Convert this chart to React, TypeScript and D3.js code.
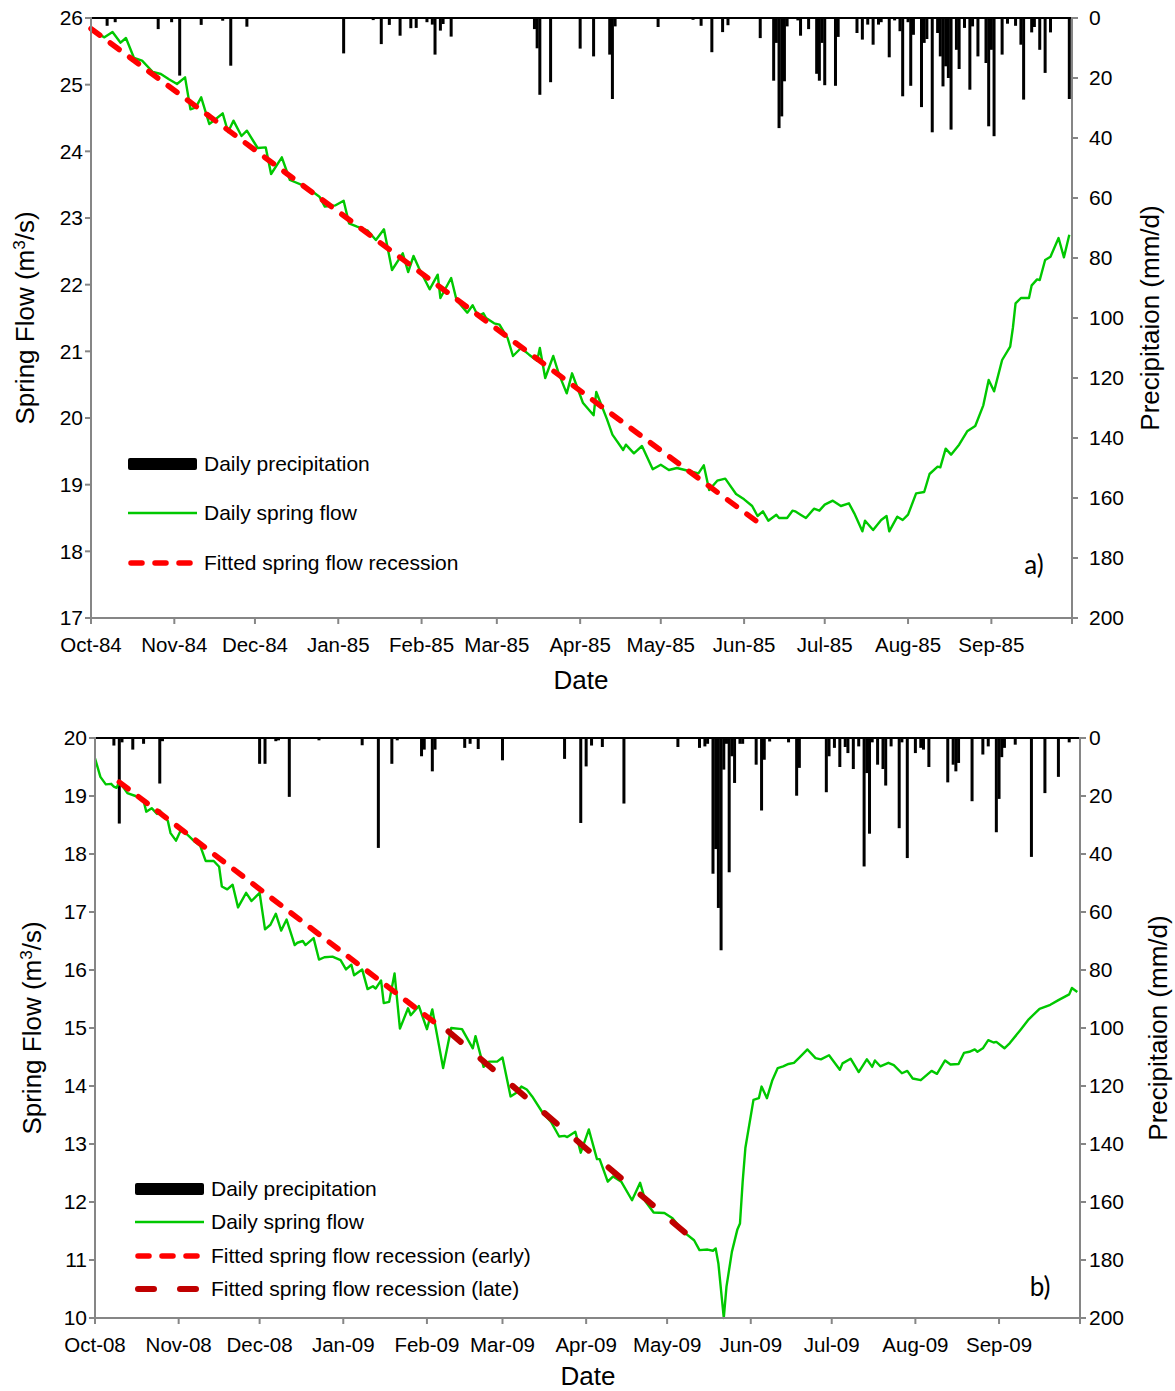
import React from 'react';
import * as d3 from 'd3';

// ---------- DATA ----------
const startA = '1984-10-01';
const startB = '2008-10-01';

const flowTicksA = [17, 18, 19, 20, 21, 22, 23, 24, 25, 26];
const flowTicksB = [10, 11, 12, 13, 14, 15, 16, 17, 18, 19, 20];
const precipTicks = [0, 20, 40, 60, 80, 100, 120, 140, 160, 180, 200];

// [day since start, mm/d]
const precipA: [number, number][] = [
  [6, 2.6], [9, 1.4], [25, 3.7], [30, 1.4], [33, 19.2], [41, 2.3], [49, 0.9], [52, 15.9], [58, 2.9],
  [94, 11.8], [105, 0.7], [108, 8.7], [111, 2.3], [115, 5.9], [119, 3.4], [121, 3.3], [125, 1.4],
  [127, 2.2], [128, 12.2], [130, 4.2], [131, 2.0], [134, 6.2], [165, 3.7], [166, 10.1], [167, 25.6],
  [171, 21.4], [182, 10.2], [187, 12.8], [193, 12.2], [194, 27], [195, 2.8], [211, 3], [224, 0.6],
  [227, 2.6], [231, 11.4], [235, 4.7], [237, 2.4], [249, 6.7], [254, 20.9], [255, 8.3], [256, 36.7],
  [257, 32.8], [258, 21.1], [259, 2.8], [263, 0.8], [264, 5.9], [267, 3.7], [270, 18.6], [271, 20.9],
  [272, 8.3], [273, 22.4], [277, 22.6], [278, 6.3], [285, 5], [287, 7.2], [289, 2.2], [291, 8.9],
  [293, 2.2], [294, 1.4], [297, 13.1], [299, 0.8], [301, 4.4], [302, 26.1], [304, 1.4], [305, 22.6],
  [306, 5.6], [309, 29.7], [310, 8.3], [311, 7], [313, 38.1], [315, 5], [316, 12.8], [317, 22.8],
  [318, 16.1], [319, 20], [320, 37.2], [322, 10.6], [323, 17], [325, 3.3], [327, 23.9], [328, 2.8],
  [330, 12.8], [333, 15], [334, 36.1], [335, 10.6], [336, 39.4], [339, 12.2], [341, 1.9], [344, 2.6],
  [346, 8.9], [347, 27.2], [350, 4.8], [351, 3], [353, 10.6], [355, 18.3], [357, 4.8], [364, 27],
];

// [day since start, m3/s]
const flowA: [number, number][] = [
  [0, 25.82], [5, 25.71], [8, 25.79], [11, 25.63], [13, 25.7], [16, 25.4], [19, 25.36], [23, 25.19],
  [26, 25.16], [29, 25.08], [32, 25.01], [35, 25.11], [37, 24.63], [39, 24.66], [41, 24.81], [44, 24.41],
  [46, 24.47], [49, 24.57], [51, 24.29], [53, 24.46], [56, 24.23], [58, 24.31], [62, 24.05], [65, 24.06],
  [67, 23.66], [71, 23.91], [74, 23.57], [80, 23.47], [85, 23.32], [87, 23.17], [91, 23.19], [94, 23.26],
  [96, 22.92], [99, 22.87], [103, 22.81], [106, 22.67], [109, 22.83], [112, 22.22], [116, 22.47],
  [118, 22.19], [120, 22.43], [122, 22.25], [126, 21.93], [129, 22.15], [130, 21.8], [134, 22.1],
  [136, 21.77], [140, 21.58], [142, 21.69], [144, 21.53], [146, 21.57], [147, 21.5], [150, 21.42],
  [152, 21.4], [155, 21.2], [157, 20.93], [160, 21.05], [163, 20.95], [166, 20.86], [167, 21.05],
  [169, 20.6], [172, 20.93], [174, 20.67], [177, 20.37], [179, 20.67], [181, 20.45], [183, 20.23],
  [187, 20.04], [188, 20.39], [192, 19.98], [194, 19.75], [198, 19.52], [199, 19.6], [202, 19.47],
  [205, 19.58], [209, 19.23], [212, 19.3], [215, 19.22], [218, 19.25], [221, 19.22], [226, 19.17],
  [228, 19.29], [230, 18.92], [233, 19.06], [236, 19.09], [240, 18.86], [243, 18.78], [246, 18.68],
  [248, 18.53], [250, 18.6], [252, 18.46], [255, 18.55], [256, 18.5], [259, 18.5], [261, 18.61],
  [262, 18.6], [264, 18.55], [266, 18.5], [269, 18.64], [271, 18.61], [273, 18.7], [276, 18.76],
  [279, 18.68], [282, 18.72], [284, 18.57], [285, 18.48], [287, 18.3], [288, 18.46], [291, 18.32],
  [294, 18.47], [296, 18.53], [297, 18.3], [300, 18.52], [302, 18.47], [304, 18.55], [307, 18.87],
  [310, 18.89], [312, 19.16], [315, 19.27], [316, 19.26], [318, 19.54], [320, 19.45], [323, 19.6],
  [326, 19.8], [329, 19.88], [332, 20.19], [334, 20.57], [336, 20.4], [339, 20.87], [342, 21.07],
  [343, 21.35], [344, 21.72], [346, 21.8], [349, 21.8], [350, 21.99], [352, 22.08], [353, 22.07],
  [355, 22.37], [357, 22.42], [360, 22.7], [362, 22.41], [364, 22.75],
];

const fitA: [number, number][] = [[0, 25.84], [248, 18.44]];

const precipB: [number, number][] = [
  [7, 2.6], [9, 29.5], [10, 1.5], [14, 4], [18, 2], [24, 15.7], [25, 1.1], [61, 8.9], [63, 8.9],
  [67, 1.1], [68, 0.8], [72, 20.3], [83, 0.8], [99, 2.5], [105, 37.9], [110, 8.9], [112, 0.8],
  [121, 6.3], [122, 4], [125, 11.5], [126, 4], [137, 3.4], [139, 2], [142, 3.8], [151, 7.7],
  [174, 7.2], [180, 29.3], [182, 9.8], [184, 2.6], [188, 3.1], [196, 22.6], [216, 3.1], [224, 3.4],
  [226, 2.9], [227, 2], [229, 46.8], [230, 38.3], [231, 58.6], [232, 73.2], [233, 10.9], [234, 2],
  [235, 46.3], [236, 6.3], [237, 15.5], [239, 2], [240, 2], [245, 9.2], [247, 25], [248, 7.5],
  [250, 1.2], [257, 1.5], [260, 19.9], [261, 10.3], [271, 18.7], [272, 6.3], [274, 3.4], [276, 10],
  [278, 3.1], [279, 5.2], [281, 10.7], [283, 2.9], [285, 44.3], [286, 12.1], [287, 33], [288, 1.5],
  [290, 9.2], [292, 10.7], [293, 16.4], [295, 2.9], [298, 31.1], [299, 1.5], [301, 41.4], [304, 5.2],
  [306, 3.4], [307, 4], [309, 10], [316, 15.3], [318, 9.2], [319, 11.5], [320, 8.6], [325, 21.8],
  [329, 5.7], [331, 2.9], [334, 32.5], [335, 21], [336, 6.6], [337, 3.4], [341, 2.3], [347, 41],
  [352, 19], [357, 13.4], [361, 1.5],
];

const flowB: [number, number][] = [
  [0, 19.65], [2, 19.33], [4, 19.2], [6, 19.21], [7, 19.16], [8, 19.14], [9, 19.25], [12, 19.05],
  [15, 19.0], [18, 18.92], [19, 18.73], [21, 18.79], [23, 18.69], [24, 18.75], [27, 18.57], [28, 18.36],
  [30, 18.23], [32, 18.43], [35, 18.3], [37, 18.21], [39, 18.14], [41, 17.88], [44, 17.88], [46, 17.78],
  [47, 17.44], [49, 17.39], [51, 17.47], [53, 17.08], [56, 17.33], [58, 17.19], [61, 17.33], [63, 16.7],
  [65, 16.78], [67, 16.97], [69, 16.68], [71, 16.87], [74, 16.43], [75, 16.47], [77, 16.5], [78, 16.43],
  [81, 16.55], [83, 16.18], [85, 16.22], [88, 16.23], [91, 16.17], [93, 16.01], [95, 16.09], [96, 15.91],
  [99, 16.01], [101, 15.67], [103, 15.72], [104, 15.68], [106, 15.82], [107, 15.43], [109, 15.45],
  [111, 15.94], [113, 14.99], [116, 15.34], [117, 15.22], [120, 15.38], [123, 14.98], [125, 15.32],
  [129, 14.31], [132, 15.0], [136, 14.98], [140, 14.65], [141, 14.86], [144, 14.33], [146, 14.42],
  [149, 14.42], [151, 14.49], [154, 13.82], [156, 13.88], [158, 13.99], [160, 13.94], [162, 13.82],
  [166, 13.53], [169, 13.38], [172, 13.13], [174, 13.14], [175, 13.12], [178, 13.21], [180, 12.85],
  [182, 13.12], [183, 13.25], [186, 12.74], [187, 12.74], [190, 12.35], [192, 12.44], [195, 12.35],
  [199, 12.03], [202, 12.33], [204, 12.01], [207, 11.82], [211, 11.81], [214, 11.72], [218, 11.49],
  [222, 11.34], [224, 11.17], [227, 11.18], [229, 11.16], [230, 11.2], [231, 10.94], [233, 10.0],
  [234, 10.54], [236, 11.14], [238, 11.52], [239, 11.63], [240, 12.35], [241, 12.93], [244, 13.76],
  [246, 13.79], [247, 13.99], [249, 13.79], [251, 14.1], [253, 14.31], [255, 14.34], [257, 14.38],
  [259, 14.4], [261, 14.49], [264, 14.63], [267, 14.48], [269, 14.46], [272, 14.53], [276, 14.28],
  [277, 14.39], [280, 14.47], [283, 14.24], [286, 14.46], [288, 14.33], [289, 14.44], [291, 14.34],
  [294, 14.4], [296, 14.36], [299, 14.22], [301, 14.26], [303, 14.13], [306, 14.1], [310, 14.26],
  [312, 14.21], [315, 14.44], [317, 14.37], [320, 14.38], [322, 14.57], [324, 14.59], [326, 14.63],
  [327, 14.59], [329, 14.65], [331, 14.79], [333, 14.75], [334, 14.76], [337, 14.65], [339, 14.74],
  [343, 14.97], [346, 15.15], [350, 15.33], [354, 15.4], [357, 15.48], [361, 15.58], [362, 15.69],
  [364, 15.62],
];

const fitEarlyB: [number, number][] = [[9, 19.24], [128, 15.02]];
const fitLateB: [number, number][] = [[131, 14.94], [222, 11.34]];

const legendA = ['Daily precipitation', 'Daily spring flow', 'Fitted spring flow recession'];
const legendB = [
  'Daily precipitation',
  'Daily spring flow',
  'Fitted spring flow recession (early)',
  'Fitted spring flow recession (late)',
];

// ---------- STYLE ----------
const FONT = '"Liberation Sans", Arial, Helvetica, sans-serif';
const AXIS = '#868686';
const GREEN = '#00c800';
const RED = '#ff0000';
const DARKRED = '#c00000';

type Fit = { data: [number, number][]; color: string; dash: string; width: number };

type PanelProps = {
  start: string;
  L: number; R: number; T: number; B: number;
  flowDomain: [number, number];
  flowTicks: number[];
  precip: [number, number][];
  flow: [number, number][];
  fits: Fit[];
  legend: string[];
  legendX: number; legendTextX: number; legendY: number[];
  tag: string; tagX: number; tagY: number;
  leftTitleX: number; rightTitleX: number; rightLabelX: number; dateY: number; dateX: number;
};

function Panel(p: PanelProps) {
  const parse = d3.utcParse('%Y-%m-%d');
  const t0 = parse(p.start) as Date;
  const t1 = d3.utcYear.offset(t0, 1);
  const x = d3.scaleUtc().domain([t0, t1]).range([p.L, p.R]);
  const dx = (d: number) => x(d3.utcDay.offset(t0, d));
  const yL = d3.scaleLinear().domain(p.flowDomain).range([p.B, p.T]);
  const yR = d3.scaleLinear().domain([0, 200]).range([p.T, p.B]);
  const months = d3.utcMonth.range(t0, d3.utcDay.offset(t1, 1));
  const fmt = d3.utcFormat('%b-%y');
  const line = d3.line<[number, number]>().x((d) => dx(d[0])).y((d) => yL(d[1]));
  const barW = 3;
  const midY = (p.T + p.B) / 2;

  const legendSym = (i: number, y: number) => {
    const x0 = p.legendX, x1 = p.legendX + 69;
    if (i === 0) return <rect x={x0} y={y - 6} width={x1 - x0} height={12} rx={2} fill="#000" />;
    if (i === 1) return <line x1={x0} x2={x1} y1={y} y2={y} stroke={GREEN} strokeWidth={2.4} />;
    const f = p.fits[i - 2];
    return (
      <line x1={x0 + 3} x2={x1 - 4} y1={y} y2={y} stroke={f.color} strokeWidth={f.width}
        strokeDasharray={f.dash} strokeLinecap="round" />
    );
  };

  return (
    <g fontFamily={FONT}>
      {/* precipitation bars */}
      {p.precip.map(([d, v], i) => (
        <rect key={'b' + i} x={dx(d) - barW / 2} y={p.T} width={barW} height={yR(v) - p.T} fill="#000" />
      ))}
      {/* spring flow */}
      <path d={line(p.flow) || ''} fill="none" stroke={GREEN} strokeWidth={2.4} strokeLinejoin="round" />
      {p.fits.map((f, i) => (
        <path key={'f' + i} d={line(f.data) || ''} fill="none" stroke={f.color} strokeWidth={f.width}
          strokeDasharray={f.dash} strokeLinecap="round" />
      ))}
      {/* axes */}
      <line x1={p.L} x2={p.R} y1={p.T} y2={p.T} stroke="#000" strokeWidth={2} />
      <line x1={p.L} x2={p.L} y1={p.T - 1} y2={p.B + 1} stroke={AXIS} strokeWidth={2} />
      <line x1={p.R} x2={p.R} y1={p.T - 1} y2={p.B + 1} stroke={AXIS} strokeWidth={2} />
      <line x1={p.L} x2={p.R} y1={p.B} y2={p.B} stroke={AXIS} strokeWidth={2} />
      {p.flowTicks.map((t) => (
        <g key={'l' + t}>
          <line x1={p.L - 6} x2={p.L} y1={yL(t)} y2={yL(t)} stroke={AXIS} strokeWidth={2} />
          <text x={p.L - 8} y={yL(t)} dy="0.35em" textAnchor="end" fontSize={21}>{t}</text>
        </g>
      ))}
      {precipTicks.map((t) => (
        <g key={'r' + t}>
          <line x1={p.R} x2={p.R + 6} y1={yR(t)} y2={yR(t)} stroke={AXIS} strokeWidth={2} />
          <text x={p.rightLabelX} y={yR(t)} dy="0.35em" textAnchor="start" fontSize={21}>{t}</text>
        </g>
      ))}
      {months.map((m, i) => (
        <g key={'m' + i}>
          <line x1={x(m)} x2={x(m)} y1={p.B} y2={p.B + 6} stroke={AXIS} strokeWidth={2} />
          {i < 12 && (
            <text x={x(m)} y={p.B + 27} dy="0.35em" textAnchor="middle" fontSize={20.5}>{fmt(m)}</text>
          )}
        </g>
      ))}
      {/* titles */}
      <text x={p.dateX} y={p.dateY} dy="0.35em" textAnchor="middle" fontSize={26}>Date</text>
      <text transform={`translate(${p.leftTitleX},${midY}) rotate(-90)`} dy="0.35em" textAnchor="middle" fontSize={26}>
        Spring Flow (m<tspan fontSize={17} dy="-0.55em">3</tspan><tspan dy="0.35em">/s)</tspan>
      </text>
      <text transform={`translate(${p.rightTitleX},${midY}) rotate(-90)`} dy="0.35em" textAnchor="middle" fontSize={26}>
        Precipitaion (mm/d)
      </text>
      {/* legend */}
      {p.legend.map((s, i) => (
        <g key={'lg' + i}>
          {legendSym(i, p.legendY[i])}
          <text x={p.legendTextX} y={p.legendY[i]} dy="0.35em" fontSize={21}>{s}</text>
        </g>
      ))}
      <text x={p.tagX} y={p.tagY} dy="0.35em" textAnchor="middle" fontSize={26} fontFamily="Lato, 'Open Sans', sans-serif">
        {p.tag}
      </text>
    </g>
  );
}

export default function App() {
  return (
    <svg width={1175} height={1391} style={{ position: 'absolute', left: 0, top: 0, background: '#fff' }}>
      <rect width={1175} height={1391} fill="#fff" />
      <Panel
        start={startA} L={91} R={1072} T={18} B={618}
        flowDomain={[17, 26]} flowTicks={flowTicksA}
        precip={precipA} flow={flowA}
        fits={[{ data: fitA, color: RED, dash: '11 13', width: 5.5 }]}
        legend={legendA} legendX={128} legendTextX={204} legendY={[464, 513, 563]}
        tag="a)" tagX={1034} tagY={565}
        leftTitleX={25} rightTitleX={1150} rightLabelX={1089} dateX={581} dateY={680}
      />
      <Panel
        start={startB} L={95} R={1080} T={738} B={1318}
        flowDomain={[10, 20]} flowTicks={flowTicksB}
        precip={precipB} flow={flowB}
        fits={[
          { data: fitEarlyB, color: RED, dash: '11 13', width: 5.5 },
          { data: fitLateB, color: DARKRED, dash: '16 26', width: 6 },
        ]}
        legend={legendB} legendX={135} legendTextX={211} legendY={[1189, 1222, 1256, 1289]}
        tag="b)" tagX={1040} tagY={1287}
        leftTitleX={32} rightTitleX={1158} rightLabelX={1089} dateX={588} dateY={1376}
      />
    </svg>
  );
}
